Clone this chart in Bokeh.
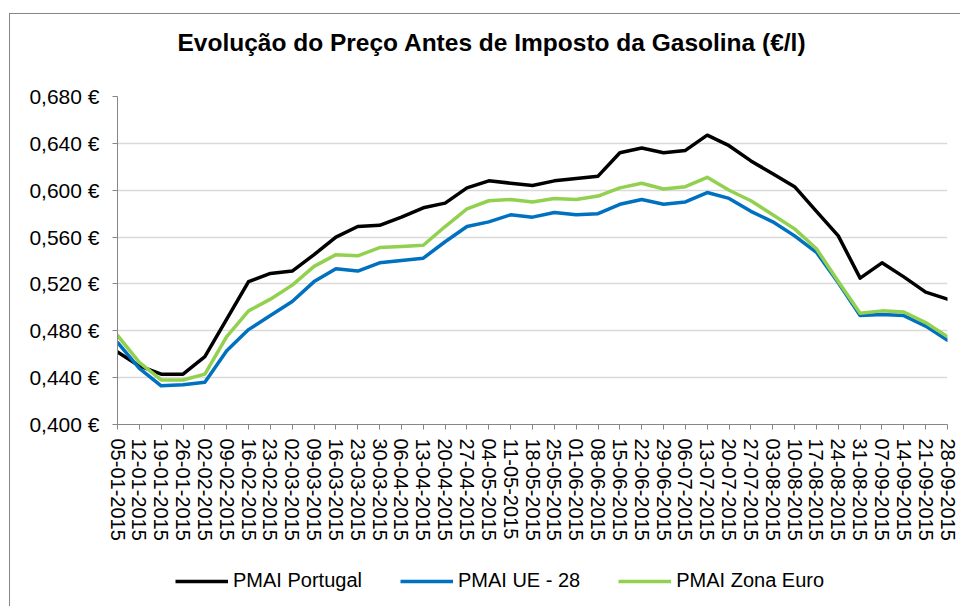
from bokeh.plotting import figure
from bokeh.layouts import column
from bokeh.models import (Range1d, FixedTicker, CustomJSTickFormatter, Legend,
                          LegendItem, Title, ColumnDataSource)
from bokeh.embed import file_html
from bokeh.resources import INLINE

dates = ["05-01-2015", "12-01-2015", "19-01-2015", "26-01-2015", "02-02-2015",
         "09-02-2015", "16-02-2015", "23-02-2015", "02-03-2015", "09-03-2015",
         "16-03-2015", "23-03-2015", "30-03-2015", "06-04-2015", "13-04-2015",
         "20-04-2015", "27-04-2015", "04-05-2015", "11-05-2015", "18-05-2015",
         "25-05-2015", "01-06-2015", "08-06-2015", "15-06-2015", "22-06-2015",
         "29-06-2015", "06-07-2015", "13-07-2015", "20-07-2015", "27-07-2015",
         "03-08-2015", "10-08-2015", "17-08-2015", "24-08-2015", "31-08-2015",
         "07-09-2015", "14-09-2015", "21-09-2015", "28-09-2015"]

pmai_portugal = [0.462, 0.450, 0.443, 0.443, 0.458, 0.490, 0.522, 0.529, 0.531, 0.545,
                 0.560, 0.569, 0.570, 0.577, 0.585, 0.589, 0.602, 0.608, 0.606, 0.604,
                 0.608, 0.610, 0.612, 0.632, 0.636, 0.632, 0.634, 0.647, 0.638, 0.625,
                 0.614, 0.603, 0.582, 0.561, 0.525, 0.538, 0.526, 0.513, 0.507]

pmai_ue28 = [0.470, 0.448, 0.433, 0.434, 0.436, 0.463, 0.481, 0.493, 0.505, 0.522,
             0.533, 0.531, 0.538, 0.540, 0.542, 0.556, 0.569, 0.573, 0.579, 0.577,
             0.581, 0.579, 0.580, 0.588, 0.592, 0.588, 0.590, 0.598, 0.593, 0.582,
             0.573, 0.561, 0.547, 0.521, 0.493, 0.494, 0.493, 0.484, 0.472]

pmai_zona_euro = [0.476, 0.453, 0.438, 0.438, 0.443, 0.475, 0.497, 0.507, 0.519, 0.535,
                  0.545, 0.544, 0.551, 0.552, 0.553, 0.569, 0.584, 0.591, 0.592, 0.590,
                  0.593, 0.592, 0.595, 0.602, 0.606, 0.601, 0.603, 0.611, 0.600, 0.591,
                  0.579, 0.567, 0.550, 0.522, 0.495, 0.497, 0.496, 0.487, 0.475]

y_ticks = [0.40, 0.44, 0.48, 0.52, 0.56, 0.60, 0.64, 0.68]

series_names = ["PMAI Portugal", "PMAI UE - 28", "PMAI Zona Euro"]
series_colors = ["#000000", "#0070C0", "#92D050"]
series_cols = ["pt", "ue", "ze"]

FONT = "Liberation Sans"
AXIS_COLOR = "#868686"

idx = list(range(len(dates)))
source = ColumnDataSource(dict(x=idx, pt=pmai_portugal, ue=pmai_ue28, ze=pmai_zona_euro))

# ---------------- main chart ----------------
p = figure(width=950, height=541, output_backend="svg", toolbar_location=None,
           x_range=Range1d(0, len(dates) - 1), y_range=Range1d(y_ticks[0], y_ticks[-1]),
           min_border_left=107, min_border_right=13, min_border_top=82,
           min_border_bottom=131)
p.outline_line_color = None
p.background_fill_color = "white"
p.border_fill_color = "white"

# spacer between title and plot area (closest to the frame)
p.add_layout(Title(text=" ", standoff=12, text_font=FONT, text_font_size="24.5px"), "above")
p.add_layout(Title(text="Evolução do Preço Antes de Imposto da Gasolina (€/l)",
                   align="left", offset=60, standoff=0,
                   text_font=FONT, text_font_size="24.5px", text_font_style="bold",
                   text_color="#000000"), "above")

for col, color in zip(series_cols, series_colors):
    p.line("x", col, source=source, line_color=color, line_width=3.5,
           line_join="round", line_cap="round")

xa = p.xaxis[0]
xa.ticker = FixedTicker(ticks=idx)
xa.major_label_overrides = {i: d for i, d in zip(idx, dates)}
xa.major_label_orientation = "vertical"
xa.major_label_text_font = FONT
xa.major_label_text_font_size = "20px"
xa.major_label_text_color = "#000000"
xa.major_label_standoff = 9
xa.axis_line_color = AXIS_COLOR
xa.major_tick_line_color = AXIS_COLOR
xa.major_tick_out = 5
xa.major_tick_in = 0
xa.minor_tick_line_color = None

ya = p.yaxis[0]
ya.ticker = FixedTicker(ticks=y_ticks)
ya.formatter = CustomJSTickFormatter(code="return tick.toFixed(3).replace('.', ',') + ' \u20ac';")
ya.major_label_text_font = FONT
ya.major_label_text_font_size = "21px"
ya.major_label_text_color = "#000000"
ya.major_label_standoff = 13
ya.axis_line_color = AXIS_COLOR
ya.major_tick_line_color = AXIS_COLOR
ya.major_tick_out = 5
ya.major_tick_in = 0
ya.minor_tick_line_color = None

p.xgrid.grid_line_color = None
p.ygrid.grid_line_color = "#d9d9d9"
p.ygrid.grid_line_width = 1.5
p.ygrid.ticker = FixedTicker(ticks=y_ticks)

# ---------------- legend strip ----------------
lg = figure(width=950, height=51, output_backend="svg", toolbar_location=None,
            x_axis_type=None, y_axis_type=None,
            x_range=Range1d(-10, -9), y_range=Range1d(y_ticks[0], y_ticks[-1]),
            min_border=0)
lg.outline_line_color = None
lg.grid.grid_line_color = None
lg.border_fill_color = "white"
lg.background_fill_color = "white"

leg_renderers = []
for col, color in zip(series_cols, series_colors):
    r = lg.line("x", col, source=source, line_color=color, line_width=3.5)
    leg_renderers.append(r)

legend = Legend(items=[LegendItem(label=n, renderers=[r]) for n, r in zip(series_names, leg_renderers)],
                orientation="horizontal", location=(58, 14),
                glyph_width=53, glyph_height=20, label_standoff=5, spacing=38,
                padding=0, margin=0, border_line_alpha=0, background_fill_alpha=0,
                label_text_font=FONT, label_text_font_size="20px",
                label_text_color="#000000")
lg.add_layout(legend, "center")

layout = column(p, lg, spacing=0)
layout.styles = {"margin-top": "13px", "margin-left": "9px",
                 "border-left": "1px solid #868686", "border-top": "1px solid #868686"}

open("out.html", "w").write(file_html(layout, INLINE))
